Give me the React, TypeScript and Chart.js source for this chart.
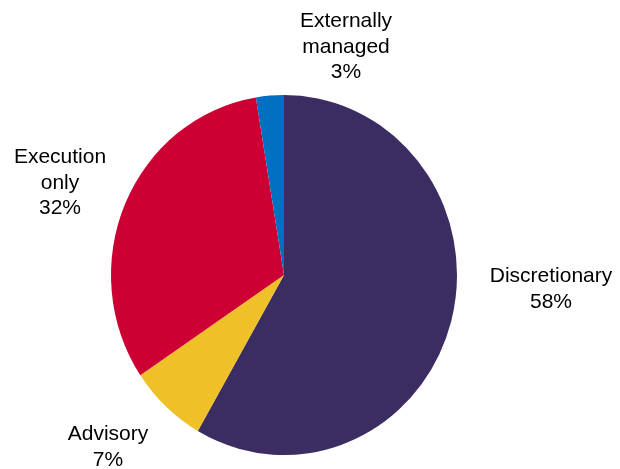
import React, { useEffect, useRef } from "react";
import { Chart, registerables } from "chart.js";

Chart.register(...registerables);

const categories = ["Discretionary", "Advisory", "Execution only", "Externally managed"];
const shares = [58.3, 7.3, 31.8, 2.6];
const colors = ["#3b2d62", "#efc028", "#cc0033", "#0070c0"];
// label block offsets from pie centre (layout only): [dx, dy of first baseline]
const labelOffsets = [
  [267, 7],
  [-176, 165],
  [-224, -112],
  [62, -248],
];

const X_SCALE = 173 / 180;

const ellipsePlugin = {
  id: "ellipse",
  beforeDatasetsDraw(chart: any) {
    const meta = chart.getDatasetMeta(0);
    const arc = meta.data[0];
    const ctx = chart.ctx;
    ctx.save();
    ctx.translate(arc.x, arc.y);
    ctx.scale(X_SCALE, 1);
    ctx.translate(-arc.x, -arc.y);
  },
  afterDatasetsDraw(chart: any) {
    chart.ctx.restore();
  },
};

const labelPlugin = {
  id: "outsideLabels",
  afterDraw(chart: any) {
    const meta = chart.getDatasetMeta(0);
    const ctx = chart.ctx;
    ctx.save();
    ctx.fillStyle = "#000000";
    ctx.font = '21px "Liberation Sans", Arial, sans-serif';
    ctx.textAlign = "center";
    ctx.textBaseline = "alphabetic";
    const lineH = 25.5;
    meta.data.forEach((arc: any, i: number) => {
      const lines = categories[i].split(" ");
      lines.push(Math.round(shares[i]) + "%");
      const [dx, dy] = labelOffsets[i];
      lines.forEach((t: string, j: number) => {
        ctx.fillText(t, arc.x + dx, arc.y + dy + j * lineH);
      });
    });
    ctx.restore();
  },
};

export default function App() {
  const ref = useRef<HTMLCanvasElement | null>(null);
  useEffect(() => {
    if (!ref.current) return;
    const chart = new Chart(ref.current, {
      type: "pie",
      data: {
        labels: categories,
        datasets: [
          {
            data: shares,
            backgroundColor: colors,
            borderWidth: 0,
          },
        ],
      },
      options: {
        animation: false,
        responsive: true,
        maintainAspectRatio: false,
        layout: { padding: { top: 95, bottom: 14, left: 104, right: 156 } },
        plugins: {
          legend: { display: false },
          tooltip: { enabled: false },
        },
      },
      plugins: [ellipsePlugin, labelPlugin],
    });
    return () => chart.destroy();
  }, []);
  return (
    <div style={{ position: "fixed", left: 0, top: 0, width: 620, height: 469, background: "#ffffff" }}>
      <canvas ref={ref} />
    </div>
  );
}
